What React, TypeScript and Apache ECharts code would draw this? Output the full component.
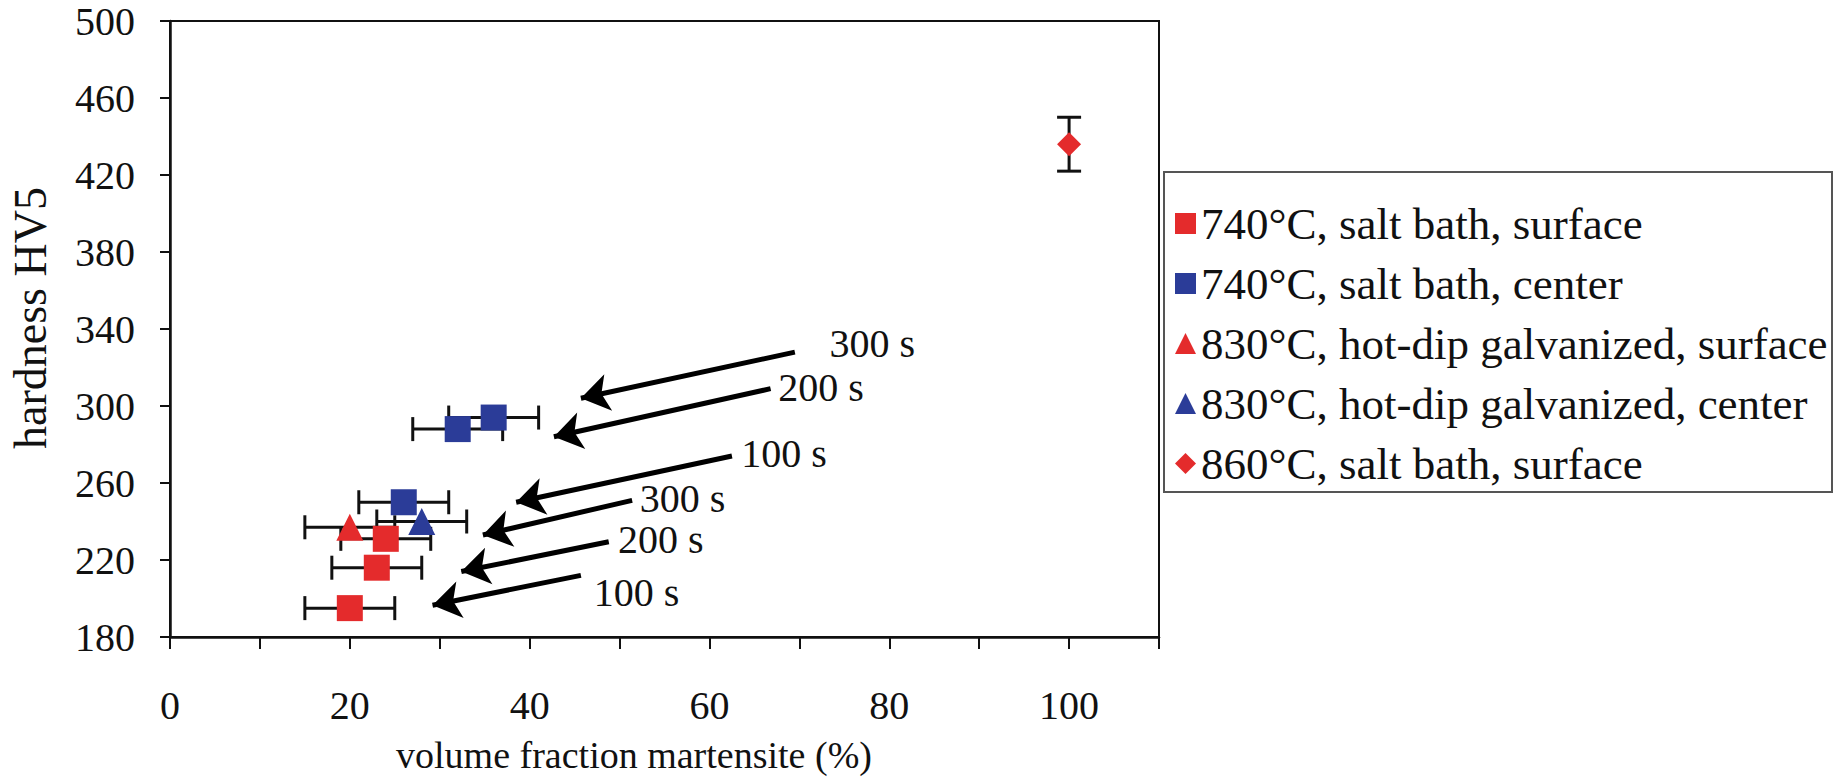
import React, { useEffect, useRef } from "react";
import * as echarts from "echarts";

// ---------- data ----------
const seriesNames = [
  "740°C, salt bath, surface",
  "740°C, salt bath, center",
  "830°C, hot-dip galvanized, surface",
  "830°C, hot-dip galvanized, center",
  "860°C, salt bath, surface",
];

// [martensite %, hardness HV5]
const salt740Surface = [[20, 195], [23, 216], [24, 231]];
const salt740SurfaceXErr = [5, 5, 5];

const salt740Center = [[26, 250], [32, 288], [36, 294]];
const salt740CenterXErr = [5, 5, 5];

const galv830Surface = [[20, 237]];
const galv830SurfaceXErr = [5];

const galv830Center = [[28, 240]];
const galv830CenterXErr = [5];

const salt860Surface = [[100, 436]];
const salt860SurfaceYErr = [14];

// annotation arrows (data coordinates): tail -> tip
const arrowTails = [[69.5, 328], [66.8, 309], [62.5, 274], [51.4, 251], [48.8, 229.5], [45.7, 212]];
const arrowTips = [[45.7, 304], [42.7, 284], [38.5, 250], [34.8, 233], [32.4, 214], [29.2, 196.5]];
const arrowLabels = ["300 s", "200 s", "100 s", "300 s", "200 s", "100 s"];
const arrowLabelPos = [[78.1, 332.7], [72.4, 309.4], [68.3, 275.1], [57.0, 252.2], [54.6, 230.9], [51.9, 202.9]];

const xTickLabels = [0, 20, 40, 60, 80, 100];
const yTickLabels = [180, 220, 260, 300, 340, 380, 420, 460, 500];

// ---------- style ----------
const RED = "#e42b2c";
const BLUE = "#2b3c98";
const INK = "#111111";
const FONT = "'Liberation Serif', 'Times New Roman', serif";

function withErr(points: number[][], errs: number[]) {
  return points.map((p, i) => [p[0], p[1], errs[i]]);
}

function hErrRender(params: any, api: any) {
  const x = api.value(0), y = api.value(1), e = api.value(2);
  const a = api.coord([x - e, y]);
  const b = api.coord([x + e, y]);
  const cap = 12;
  const st = { stroke: INK, lineWidth: 3 };
  return {
    type: "group",
    children: [
      { type: "line", shape: { x1: a[0], y1: a[1], x2: b[0], y2: b[1] }, style: st },
      { type: "line", shape: { x1: a[0], y1: a[1] - cap, x2: a[0], y2: a[1] + cap }, style: st },
      { type: "line", shape: { x1: b[0], y1: b[1] - cap, x2: b[0], y2: b[1] + cap }, style: st },
    ],
  };
}

function vErrRender(params: any, api: any) {
  const x = api.value(0), y = api.value(1), e = api.value(2);
  const a = api.coord([x, y - e]);
  const b = api.coord([x, y + e]);
  const cap = 12;
  const st = { stroke: INK, lineWidth: 3 };
  return {
    type: "group",
    children: [
      { type: "line", shape: { x1: a[0], y1: a[1], x2: b[0], y2: b[1] }, style: st },
      { type: "line", shape: { x1: a[0] - cap, y1: a[1], x2: a[0] + cap, y2: a[1] }, style: st },
      { type: "line", shape: { x1: b[0] - cap, y1: b[1], x2: b[0] + cap, y2: b[1] }, style: st },
    ],
  };
}

function errSeries(name: string, data: number[][], vertical = false) {
  return {
    type: "custom",
    name,
    renderItem: vertical ? vErrRender : hErrRender,
    data,
    encode: { x: 0, y: 1 },
    z: 1,
    silent: true,
  };
}

export default function App() {
  const ref = useRef<HTMLDivElement>(null);

  useEffect(() => {
    if (!ref.current) return;
    const chart = echarts.init(ref.current, undefined, { renderer: "svg" });

    const option: any = {
      animation: false,
      backgroundColor: "#ffffff",
      textStyle: { fontFamily: FONT, color: INK },
      grid: {
        left: 170,
        top: 21,
        width: 989,
        height: 616,
        show: true,
        borderColor: INK,
        borderWidth: 2,
        backgroundColor: "transparent",
      },
      xAxis: {
        type: "value",
        min: 0,
        max: 110,
        interval: 10,
        axisLine: { show: true, lineStyle: { color: INK, width: 2.5 } },
        axisTick: { show: true, length: 12, lineStyle: { color: INK, width: 2 } },
        splitLine: { show: false },
        axisLabel: {
          margin: 48,
          fontFamily: FONT,
          fontSize: 40,
          color: INK,
          formatter: (v: number) => (xTickLabels.includes(v) ? String(v) : ""),
        },
      },
      yAxis: {
        type: "value",
        min: yTickLabels[0],
        max: yTickLabels[yTickLabels.length - 1],
        interval: 40,
        axisLine: { show: true, lineStyle: { color: INK, width: 2.5 } },
        axisTick: { show: true, length: 10, lineStyle: { color: INK, width: 2 } },
        splitLine: { show: false },
        axisLabel: { margin: 35, fontFamily: FONT, fontSize: 40, color: INK },
      },
      legend: {
        orient: "vertical",
        left: 1170,
        top: 196,
        itemWidth: 21,
        itemHeight: 21,
        itemGap: 15,
        data: seriesNames,
        textStyle: { fontFamily: FONT, fontSize: 45, color: INK, lineHeight: 45 },
        selectedMode: false,
        z: 10,
      },
      graphic: [
        {
          type: "rect",
          shape: { x: 1164, y: 172, width: 668, height: 320 },
          style: { fill: "transparent", stroke: "#555", lineWidth: 2 },
          z: 0,
        },
        {
          type: "text",
          x: 30,
          y: 318,
          rotation: Math.PI / 2,
          style: {
            text: "hardness HV5",
            fontFamily: FONT,
            fontSize: 46,
            fill: INK,
            textAlign: "center",
            textVerticalAlign: "middle",
          },
        },
        {
          type: "text",
          x: 634,
          y: 755,
          style: {
            text: "volume fraction martensite (%)",
            fontFamily: FONT,
            fontSize: 38,
            fill: INK,
            textAlign: "center",
            textVerticalAlign: "middle",
          },
        },
      ],
      series: [
        errSeries("err1", withErr(salt740Surface, salt740SurfaceXErr)),
        errSeries("err2", withErr(salt740Center, salt740CenterXErr)),
        errSeries("err3", withErr(galv830Surface, galv830SurfaceXErr)),
        errSeries("err4", withErr(galv830Center, galv830CenterXErr)),
        errSeries("err5", withErr(salt860Surface, salt860SurfaceYErr), true),
        {
          type: "scatter",
          name: seriesNames[0],
          data: salt740Surface,
          symbol: "rect",
          symbolSize: 26,
          itemStyle: { color: RED, opacity: 1 },
          z: 3,
        },
        {
          type: "scatter",
          name: seriesNames[1],
          data: salt740Center,
          symbol: "rect",
          symbolSize: 26,
          itemStyle: { color: BLUE, opacity: 1 },
          z: 3,
        },
        {
          type: "scatter",
          name: seriesNames[2],
          data: galv830Surface,
          symbol: "triangle",
          symbolSize: 27,
          itemStyle: { color: RED, opacity: 1 },
          z: 3,
        },
        {
          type: "scatter",
          name: seriesNames[3],
          data: galv830Center,
          symbol: "triangle",
          symbolSize: 27,
          itemStyle: { color: BLUE, opacity: 1 },
          z: 3,
        },
        {
          type: "scatter",
          name: seriesNames[4],
          data: salt860Surface,
          symbol: "diamond",
          symbolSize: 24,
          itemStyle: { color: RED, opacity: 1 },
          z: 3,
        },
        {
          type: "scatter",
          name: "annotations",
          data: arrowLabelPos.map((p, i) => ({ name: arrowLabels[i], value: p })),
          symbolSize: 1,
          itemStyle: { color: "rgba(0,0,0,0)" },
          silent: true,
          label: {
            show: true,
            position: "inside",
            formatter: "{b}",
            fontFamily: FONT,
            fontSize: 40,
            color: INK,
            opacity: 1,
          },
          markLine: {
            silent: true,
            symbol: ["none", "arrow"],
            symbolSize: 28,
            label: { show: false },
            lineStyle: { color: "#000", width: 5, type: "solid" },
            data: arrowTails.map((t, i) => [{ coord: t }, { coord: arrowTips[i] }]),
          },
          z: 4,
        },
      ],
    };

    chart.setOption(option);
    return () => chart.dispose();
  }, []);

  return (
    <div
      ref={ref}
      style={{ position: "fixed", left: 0, top: 0, width: 1835, height: 777, background: "#fff" }}
    />
  );
}
